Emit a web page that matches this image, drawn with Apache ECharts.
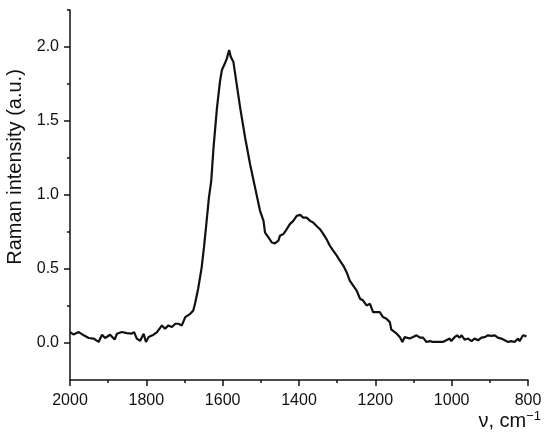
<!DOCTYPE html>
<html>
<head>
<meta charset="utf-8">
<script src="https://cdn.jsdelivr.net/npm/echarts@6/dist/echarts.min.js"></script>
<style>html,body{margin:0;padding:0;background:#fff;}#c{width:550px;height:440px;}</style>
</head>
<body>
<div id="c"></div>
<script>
// Wavenumber (cm^-1) and Raman intensity (a.u.)
const wavenumber = [2000,1991,1977,1964,1951,1938,1925,1916,1908,1895,1883,1877,1864,1851,1838,1832,1825,1816,1807,1801,1794,1781,1772,1759,1751,1742,1733,1724,1716,1707,1698,1685,1677,1672,1664,1655,1649,1642,1636,1630,1624,1615,1607,1602,1594,1589,1583,1579,1572,1563,1554,1541,1528,1515,1502,1493,1489,1480,1471,1463,1454,1450,1441,1432,1424,1415,1406,1397,1389,1380,1371,1363,1354,1345,1336,1328,1319,1310,1301,1293,1284,1275,1267,1258,1249,1240,1232,1223,1214,1206,1197,1188,1180,1171,1162,1158,1144,1136,1129,1123,1118,1110,1101,1092,1083,1075,1066,1057,1049,1040,1031,1023,1014,1005,1001,992,986,979,974,966,957,948,940,931,922,913,905,896,887,879,870,861,852,844,835,826,822,813,804];
const intensity = [0.074,0.058,0.074,0.052,0.034,0.030,0.007,0.056,0.034,0.056,0.023,0.063,0.074,0.067,0.063,0.074,0.030,0.015,0.063,0.007,0.041,0.056,0.074,0.119,0.097,0.119,0.108,0.130,0.130,0.119,0.175,0.197,0.220,0.270,0.370,0.511,0.646,0.825,0.982,1.094,1.318,1.587,1.767,1.845,1.890,1.923,1.980,1.935,1.901,1.744,1.587,1.385,1.206,1.049,0.892,0.825,0.746,0.713,0.679,0.673,0.691,0.724,0.736,0.769,0.803,0.825,0.859,0.866,0.847,0.847,0.825,0.814,0.791,0.769,0.736,0.702,0.657,0.623,0.590,0.556,0.523,0.477,0.422,0.388,0.354,0.299,0.287,0.254,0.265,0.208,0.208,0.208,0.175,0.164,0.141,0.090,0.063,0.040,0.007,0.040,0.052,0.030,0.040,0.052,0.036,0.036,0.007,0.013,0.007,0.007,0.007,0.007,0.018,0.030,0.013,0.040,0.052,0.036,0.052,0.022,0.030,0.013,0.030,0.018,0.036,0.040,0.052,0.048,0.052,0.036,0.030,0.018,0.007,0.013,0.007,0.030,0.013,0.052,0.045];
const yMajorTicks = [0, 0.5, 1.0, 1.5, 2.0];
const yMinorTicks = [0.25, 0.75, 1.25, 1.75, 2.25];
const xTickValues = [800, 1000, 1200, 1400, 1600, 1800, 2000];
const yAxisTitle = 'Raman intensity (a.u.)';
const xAxisTitle = 'ν, cm{sup|−1}';

const FONT = '"Liberation Sans", Arial, Helvetica, sans-serif';
const INK = '#111';
const points = wavenumber.map((v, i) => [v, intensity[i]]);

const chart = echarts.init(document.getElementById('c'), null, {renderer: 'canvas'});
chart.setOption({
  animation: false,
  backgroundColor: '#fff',
  grid: {left: 70, right: 22, top: 10, bottom: 60, containLabel: false, outerBoundsMode: 'none'},
  xAxis: {
    type: 'value', min: 800, max: 2000, interval: 200, inverse: true,
    axisLine: {show: true, onZero: false, lineStyle: {color: INK, width: 1.5}},
    axisTick: {show: true, length: 6, lineStyle: {color: INK, width: 1.5}},
    minorTick: {show: true, splitNumber: 2, length: 3, lineStyle: {color: INK, width: 1.5}},
    splitLine: {show: false},
    axisLabel: {color: INK, fontSize: 16, fontFamily: FONT, margin: 13,
      customValues: xTickValues, formatter: v => String(v)}
  },
  yAxis: [{
    type: 'value', min: -0.25, max: 2.25, position: 'left',
    axisLine: {show: true, onZero: false, lineStyle: {color: INK, width: 1.5}},
    axisTick: {show: true, length: 6, customValues: yMajorTicks, lineStyle: {color: INK, width: 1.5}},
    axisLabel: {color: INK, fontSize: 16, fontFamily: FONT, margin: 11,
      customValues: yMajorTicks, formatter: v => Number(v).toFixed(1)},
    splitLine: {show: false},
    name: yAxisTitle, nameLocation: 'middle', nameRotate: 90, nameGap: 41,
    nameTextStyle: {color: INK, fontSize: 20, fontFamily: FONT, padding: [0, 0, 0, 56]}
  }, {
    type: 'value', min: -0.25, max: 2.25, position: 'left', offset: 0,
    axisLine: {show: false},
    axisTick: {show: true, length: 3, customValues: yMinorTicks, lineStyle: {color: INK, width: 1.5}},
    axisLabel: {show: false},
    splitLine: {show: false}
  }],
  graphic: [{
    type: 'text', right: 9, top: 410,
    style: {
      text: xAxisTitle, fill: INK, font: '20px ' + FONT,
      rich: {sup: {fontSize: 13, fontFamily: FONT, fill: INK, verticalAlign: 'top', lineHeight: 22}}
    }
  }],
  series: [{
    type: 'line', data: points, xAxisIndex: 0, yAxisIndex: 0,
    showSymbol: false, symbol: 'none', smooth: false,
    lineStyle: {color: INK, width: 2.2}
  }]
});
</script>
</body>
</html>
